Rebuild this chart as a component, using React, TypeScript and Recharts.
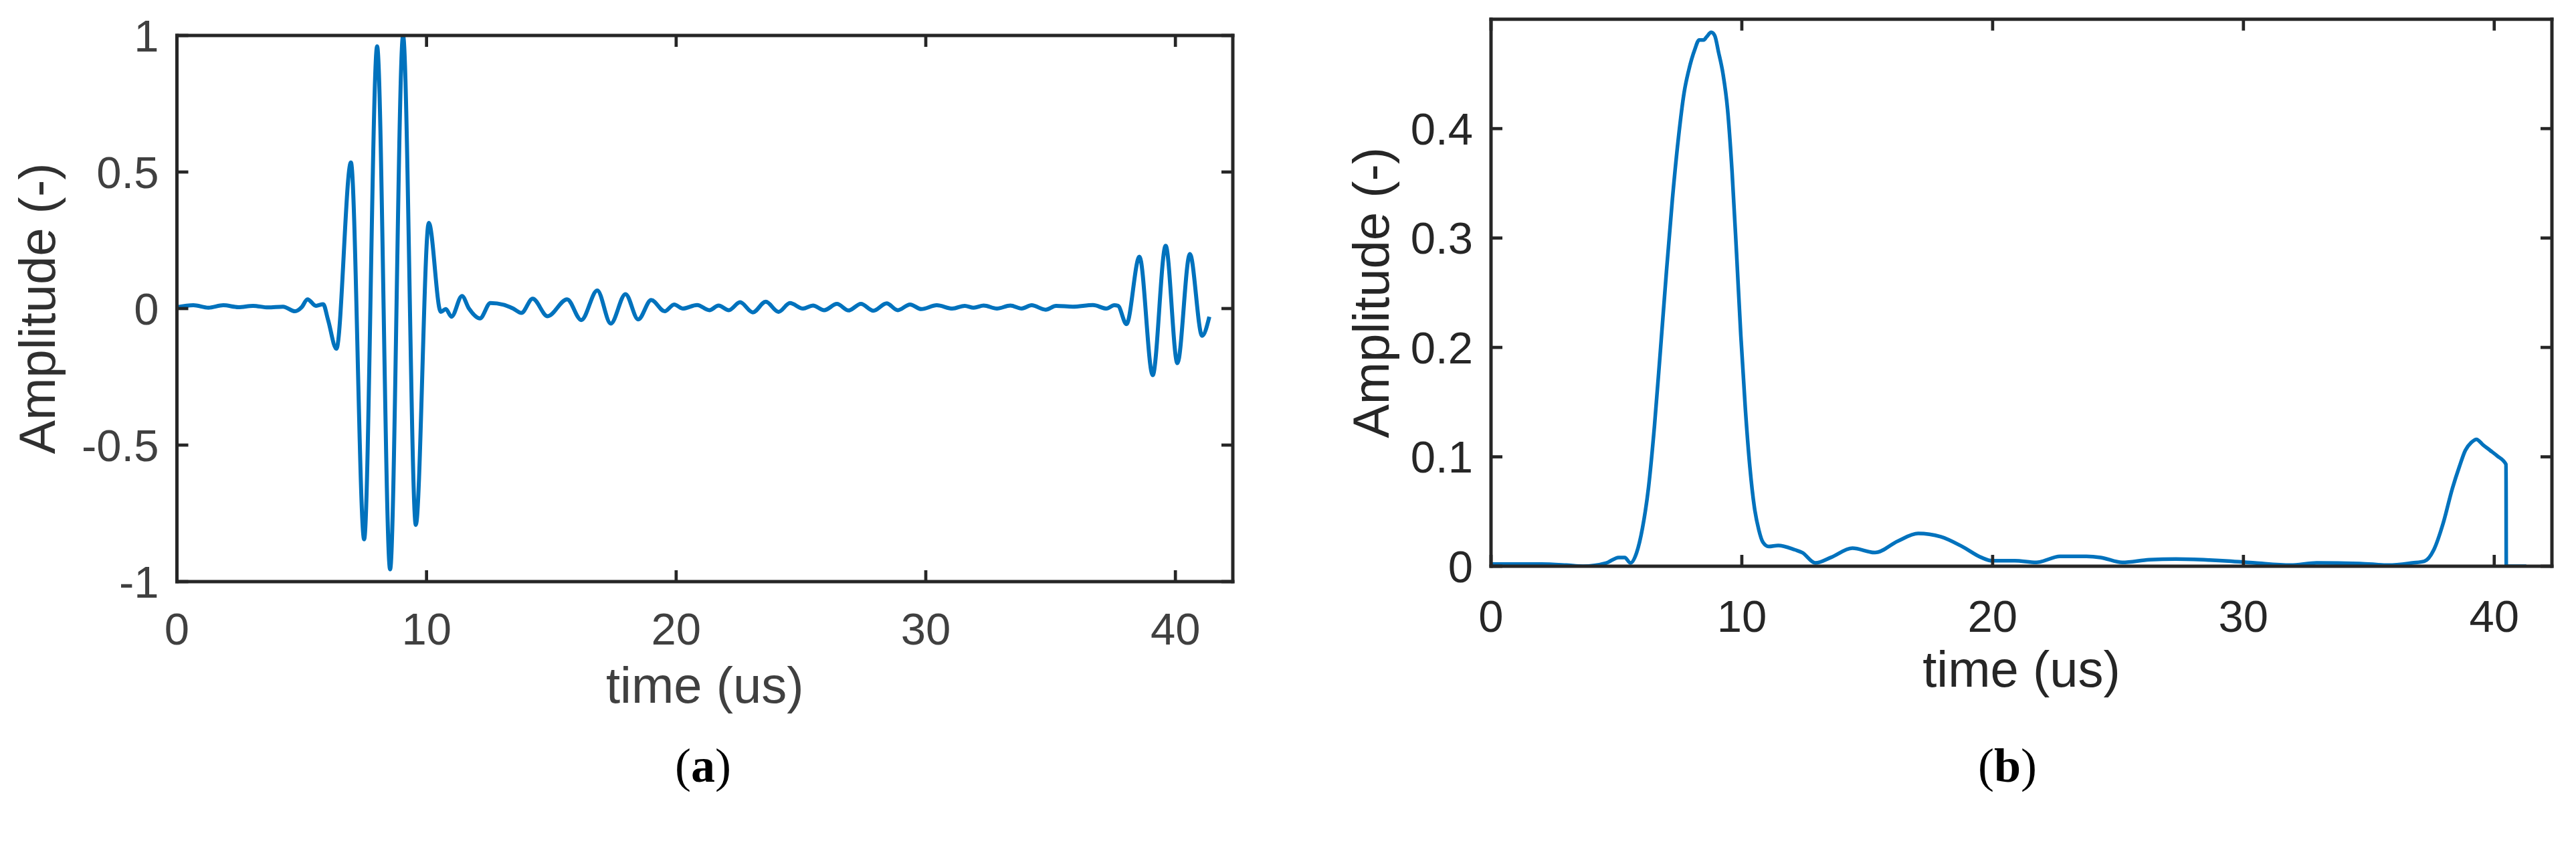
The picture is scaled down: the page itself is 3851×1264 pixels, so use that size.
import React from "react";
import { LineChart, Line, XAxis, YAxis, Label } from "recharts";

// (a) raw ultrasonic signal, time in us
const timeA = [
  0, 0.66, 1.26, 1.86, 2.46, 3.05, 3.65, 4.25, 4.73, 5.0,
  5.23, 5.57, 5.86, 6.05, 6.39, 6.97, 7.5, 8.02, 8.54, 9.06,
  9.57, 10.09, 10.57, 10.77, 11.0, 11.42, 11.7, 12.14, 12.56, 13.09,
  13.47, 13.8, 14.25, 14.85, 15.63, 16.2, 16.84, 17.38, 17.97, 18.48,
  19.0, 19.54, 19.92, 20.26, 20.84, 21.33, 21.7, 22.11, 22.56, 23.07,
  23.59, 24.1, 24.56, 25.08, 25.48, 25.93, 26.44, 26.91, 27.4, 27.9,
  28.43, 28.88, 29.37, 29.82, 30.44, 31.07, 31.56, 31.92, 32.32, 32.85,
  33.39, 33.84, 34.24, 34.8, 35.22, 35.89, 36.7, 37.24, 37.55, 37.7,
  38.04, 38.56, 39.09, 39.61, 40.08, 40.58, 41.07, 41.36,
];
const ampA = [
  0.005, 0.012, 0.003, 0.012, 0.005, 0.01, 0.004, 0.007, -0.01, 0.005,
  0.034, 0.01, 0.016, -0.04, -0.147, 0.535, -0.845, 0.96, -0.955, 1.0,
  -0.792, 0.314, -0.012, -0.002, -0.03, 0.046, 0.0, -0.036, 0.02, 0.014,
  0.0, -0.016, 0.036, -0.028, 0.034, -0.042, 0.066, -0.055, 0.053, -0.04,
  0.031, -0.01, 0.015, 0.0, 0.013, -0.006, 0.011, -0.006, 0.023, -0.014,
  0.025, -0.012, 0.02, 0.0, 0.011, -0.006, 0.017, -0.007, 0.017, -0.008,
  0.019, -0.006, 0.015, -0.002, 0.012, 0.0, 0.01, 0.003, 0.011, 0.0,
  0.011, 0.0, 0.012, -0.004, 0.01, 0.007, 0.013, 0.0, 0.012, 0.01,
  -0.057, 0.19, -0.244, 0.23, -0.2, 0.2, -0.1, -0.03,
];

// (b) envelope of the signal
const timeB = [
  0, 1, 2, 3, 3.66, 4.6, 5.09, 5.33, 5.56, 5.8,
  6.04, 6.28, 6.52, 6.75, 6.99, 7.23, 7.47, 7.7, 7.88, 8.12,
  8.3, 8.48, 8.6, 8.78, 8.92, 9.07, 9.25, 9.43, 9.61, 9.79,
  9.96, 10.14, 10.32, 10.5, 10.68, 10.84, 11.07, 11.45, 12.12, 12.41,
  12.93, 13.55, 14.41, 15.31, 16.22, 17.03, 17.93, 18.79, 19.55, 19.98,
  20.88, 21.74, 22.69, 23.74, 24.31, 25.17, 26.25, 27.3, 28.64, 29.4,
  30.45, 31.88, 32.92, 34.64, 35.78, 36.74, 37.21, 37.59, 37.96, 38.33,
  38.61, 38.85, 39.08, 39.29, 39.55, 39.83, 40.11, 40.47, 40.48, 41.28,
];
const ampB = [
  0.002, 0.002, 0.002, 0.001, 0.0, 0.003, 0.008, 0.008, 0.003, 0.012,
  0.035, 0.072, 0.129, 0.196, 0.268, 0.335, 0.391, 0.433, 0.453, 0.472,
  0.481, 0.481, 0.484, 0.488, 0.485, 0.47, 0.45, 0.418, 0.361, 0.286,
  0.211, 0.144, 0.091, 0.054, 0.033, 0.022, 0.018, 0.019, 0.015, 0.0125,
  0.003, 0.008, 0.0165, 0.0125, 0.023, 0.03, 0.027, 0.018, 0.008, 0.005,
  0.005, 0.0035, 0.009, 0.009, 0.008, 0.0035, 0.006, 0.0066, 0.0057, 0.0048,
  0.003, 0.001, 0.003, 0.0025, 0.001, 0.003, 0.0045, 0.015, 0.039, 0.071,
  0.091, 0.106, 0.113, 0.116, 0.111, 0.106, 0.101, 0.093, 0.0, 0.0,
];

const xTicks = [0, 10, 20, 30, 40];
const yTicksA = [-1, -0.5, 0, 0.5, 1];
const yTicksB = [0, 0.1, 0.2, 0.3, 0.4];

const dataA = timeA.map((t, i) => ({ t, amp: ampA[i] }));
const dataB = timeB.map((t, i) => ({ t, amp: ampB[i] }));

const FONT = '"Liberation Sans", Arial, Helvetica, sans-serif';
const BLUE = "#0072BD";
const AXIS = "#262626";
const X_MAX = 42.3;
const TICK_LEN = 17;
const TICK_W = 4.7;
const TICK_FONT = 67;
const TITLE_FONT = 76;

// matlab style ticks: marks point into the box, labels outside
const bottomTick = (color: string, drop: number) => (props: any) => {
  const { x, y, payload } = props;
  return (
    <g>
      <line x1={x} x2={x} y1={y} y2={y - TICK_LEN} stroke={AXIS} strokeWidth={TICK_W} />
      <text x={x} y={y + drop} textAnchor="middle" fill={color} fontSize={TICK_FONT} fontFamily={FONT}>
        {payload.value}
      </text>
    </g>
  );
};
const leftTick = (color: string) => (props: any) => {
  const { x, y, payload } = props;
  return (
    <g>
      <line x1={x} x2={x + TICK_LEN} y1={y} y2={y} stroke={AXIS} strokeWidth={TICK_W} />
      <text x={x - 27} y={y} dy="0.355em" textAnchor="end" fill={color} fontSize={TICK_FONT} fontFamily={FONT}>
        {payload.value}
      </text>
    </g>
  );
};
const topTick = (props: any) => (
  <line x1={props.x} x2={props.x} y1={props.y} y2={props.y + TICK_LEN} stroke={AXIS} strokeWidth={TICK_W} />
);
const rightTick = (props: any) => (
  <line x1={props.x} x2={props.x - TICK_LEN} y1={props.y} y2={props.y} stroke={AXIS} strokeWidth={TICK_W} />
);

interface PanelProps {
  data: { t: number; amp: number }[];
  yDomain: [number, number];
  yTicks: number[];
  textColor: string;
  yTitleColor: string;
  lineWidth: number;
  width: number;
  margin: { top: number; right: number; bottom: number; left: number };
  yTitleGap: number;
  xTitleDrop: number;
  xLabelDrop: number;
}

const axisLine = { stroke: AXIS, strokeWidth: 5, strokeLinecap: "square" as const };

const Panel: React.FC<PanelProps> = ({
  data,
  yDomain,
  yTicks,
  textColor,
  yTitleColor,
  lineWidth,
  width,
  margin,
  yTitleGap,
  xTitleDrop,
  xLabelDrop,
}) => {
  const xTitle = (props: any) => {
    const vb = props.viewBox;
    return (
      <text
        x={vb.x + vb.width / 2}
        y={vb.y + xTitleDrop}
        textAnchor="middle"
        fill={textColor}
        fontSize={TITLE_FONT}
        fontFamily={FONT}
      >
        time (us)
      </text>
    );
  };
  const yTitle = (props: any) => {
    const vb = props.viewBox;
    const cx = vb.x + vb.width - yTitleGap;
    const cy = vb.y + vb.height / 2;
    return (
      <text
        x={cx}
        y={cy}
        transform={`rotate(-90 ${cx} ${cy})`}
        textAnchor="middle"
        dominantBaseline="central"
        fill={yTitleColor}
        fontSize={TITLE_FONT}
        fontFamily={FONT}
      >
        Amplitude (-)
      </text>
    );
  };

  return (
    <LineChart width={width} height={1264} data={data} margin={margin}>
      <XAxis
        dataKey="t"
        type="number"
        domain={[0, X_MAX]}
        ticks={xTicks}
        interval={0}
        allowDataOverflow
        height={200}
        tickSize={0}
        tickMargin={0}
        axisLine={axisLine}
        tickLine={false}
        tick={bottomTick(textColor, xLabelDrop)}
      >
        <Label content={xTitle} />
      </XAxis>
      <XAxis
        xAxisId="top"
        orientation="top"
        dataKey="t"
        type="number"
        domain={[0, X_MAX]}
        ticks={xTicks}
        interval={0}
        allowDataOverflow
        height={1}
        tickSize={0}
        tickMargin={0}
        axisLine={axisLine}
        tickLine={false}
        tick={topTick}
      />
      <YAxis
        type="number"
        domain={yDomain}
        ticks={yTicks}
        interval={0}
        allowDataOverflow
        width={200}
        tickSize={0}
        tickMargin={0}
        axisLine={axisLine}
        tickLine={false}
        tick={leftTick(textColor)}
      >
        <Label content={yTitle} />
      </YAxis>
      <YAxis
        yAxisId="right"
        orientation="right"
        type="number"
        domain={yDomain}
        ticks={yTicks}
        interval={0}
        allowDataOverflow
        width={1}
        tickSize={0}
        tickMargin={0}
        axisLine={axisLine}
        tickLine={false}
        tick={rightTick}
      />
      <Line
        type="monotone"
        dataKey="amp"
        stroke={BLUE}
        strokeWidth={lineWidth}
        strokeLinejoin="round"
        dot={false}
        activeDot={false}
        isAnimationActive={false}
      />
    </LineChart>
  );
};

const captionStyle: React.CSSProperties = {
  position: "absolute",
  top: 1108,
  width: 300,
  textAlign: "center",
  fontFamily: '"Liberation Serif", "Times New Roman", serif',
  fontSize: 72,
  lineHeight: "72px",
  color: "#000",
};

export default function App() {
  return (
    <div
      style={{
        position: "absolute",
        left: 0,
        top: 0,
        width: 3851,
        height: 1264,
        background: "#fff",
        overflow: "hidden",
      }}
    >
      <div style={{ position: "absolute", left: 0, top: 0 }}>
        <Panel
          data={dataA}
          yDomain={[-1, 1]}
          yTicks={yTicksA}
          textColor="#404040"
          yTitleColor="#303030"
          lineWidth={6}
          width={1900}
          margin={{ top: 52, right: 56, bottom: 195, left: 64.5 }}
          yTitleGap={209}
          xTitleDrop={181}
          xLabelDrop={94}
        />
      </div>
      <div style={{ position: "absolute", left: 1950, top: 0 }}>
        <Panel
          data={dataB}
          yDomain={[0, 0.5]}
          yTicks={yTicksB}
          textColor="#262626"
          yTitleColor="#262626"
          lineWidth={5.5}
          width={1901}
          margin={{ top: 27.7, right: 35, bottom: 218, left: 79 }}
          yTitleGap={179}
          xTitleDrop={180}
          xLabelDrop={98}
        />
      </div>
      <div style={{ ...captionStyle, left: 1051 - 150 }}>
        (<b>a</b>)
      </div>
      <div style={{ ...captionStyle, left: 3001 - 150 }}>
        (<b>b</b>)
      </div>
    </div>
  );
}
